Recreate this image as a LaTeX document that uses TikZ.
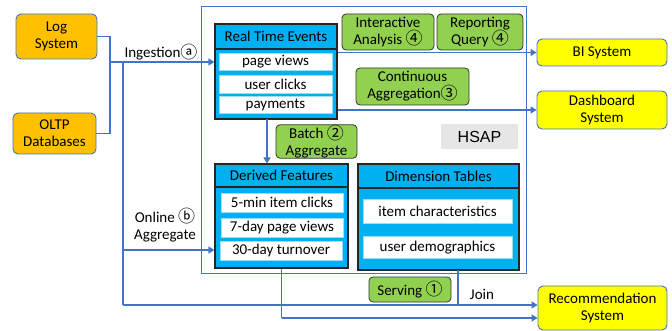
\documentclass[tikz,border=0pt]{standalone}
\usepackage{fontspec}
\setmainfont{Carlito}
\newfontfamily\circfont{Noto Sans CJK SC}
\newfontfamily\hsapfont{Liberation Sans}
\usetikzlibrary{arrows.meta}
\definecolor{cOrange}{HTML}{FFC000}
\definecolor{cGreen}{HTML}{92D050}
\definecolor{cYellow}{HTML}{FFFF00}
\definecolor{cCyan}{HTML}{00B0F0}
\definecolor{cLine}{HTML}{4472C4}
\definecolor{cGray}{HTML}{E7E6E6}
\newcommand{\circled}[1]{{\circfont\fontsize{17}{17}\selectfont\raisebox{-0.5pt}{#1}}}
\begin{document}
\begin{tikzpicture}[x=1pt,y=-1pt,
  every node/.style={font=\fontsize{15}{17}\selectfont, inner sep=0pt, align=center},
  srcbox/.style={draw=cLine, fill=cOrange, rounded corners=5pt, line width=0.9pt},
  dstbox/.style={draw=cLine, fill=cYellow, rounded corners=5pt, line width=0.9pt},
  opbox/.style={draw=black!80, fill=cGreen, rounded corners=4pt, line width=0.8pt},
  tblbox/.style={draw=black!85, fill=cCyan, line width=1.1pt},
  itembox/.style={draw=cCyan!40, fill=white, line width=0.8pt},
  conn/.style={draw=cLine, line width=1.1pt},
  arr/.style={conn, -{Triangle[length=6pt,width=7pt]}}
]
\useasboundingbox (0,0) rectangle (672,331);

% sources
\node[srcbox, minimum width=81pt, minimum height=45pt] (log) at (56.5,36.5) {Log\\System};
\node[srcbox, minimum width=83pt, minimum height=41pt] (oltp) at (54.5,133.5) {OLTP\\Databases};

% HSAP container
\node[draw=cLine, line width=0.9pt, minimum width=325pt, minimum height=267pt] (hsap) at (363.5,139.5) {};
\node[fill=cGray, minimum width=77pt, minimum height=25pt, font=\hsapfont\fontsize{16}{18}\selectfont] (hsaplbl) at (479.5,136.5) {HSAP};

% Real Time Events
\node[tblbox, minimum width=122pt, minimum height=95pt] (rte) at (276,71.5) {};
\node[tblbox, minimum width=122pt, minimum height=25pt] (rteh) at (276,36.5) {Real Time Events};
\node[itembox, minimum width=113pt, minimum height=17.5pt] (pv) at (275.5,62) {page views};
\node[itembox, minimum width=113pt, minimum height=17.5pt] (uc) at (275.5,84.5) {user clicks};
\node[itembox, minimum width=113pt, minimum height=17.5pt] (pay) at (275.5,105) {payments};

% operations
\node[opbox, minimum width=92pt, minimum height=36pt] (ia) at (388,32) {Interactive\\Analysis \circled{④}};
\node[opbox, minimum width=86pt, minimum height=36pt] (rq) at (480,32) {Reporting\\Query \circled{④}};
\node[opbox, minimum width=113pt, minimum height=37pt] (ca) at (412.5,86.5) {Continuous\\Aggregation\circled{③}};
\node[opbox, minimum width=81pt, minimum height=33pt] (ba) at (316.5,141.5) {Batch \circled{②}\\Aggregate};
\node[opbox, minimum width=82pt, minimum height=25pt] (sv) at (410,289.5) {Serving \circled{①}};

% destinations
\node[dstbox, minimum width=130pt, minimum height=27pt] (bi) at (602,52.5) {BI System};
\node[dstbox, minimum width=130pt, minimum height=38pt] (dash) at (602,110) {Dashboard\\System};
\node[dstbox, minimum width=129pt, minimum height=44pt] (rec) at (602.5,308) {Recommendation\\System};

% Derived Features
\node[tblbox, minimum width=133pt, minimum height=104pt] (der) at (281.5,216) {};
\node[tblbox, minimum width=133pt, minimum height=23pt] (derh) at (281.5,175.5) {Derived Features};
\node[itembox, minimum width=122pt, minimum height=19pt] (f1) at (282,202.5) {5-min item clicks};
\node[itembox, minimum width=122pt, minimum height=19pt] (f2) at (282,227.5) {7-day page views};
\node[itembox, minimum width=122pt, minimum height=19pt] (f3) at (281,251) {30-day turnover};

% Dimension Tables
\node[tblbox, minimum width=161pt, minimum height=106pt] (dim) at (438.5,217) {};
\node[tblbox, minimum width=161pt, minimum height=24pt] (dimh) at (438.5,176) {Dimension Tables};
\node[itembox, minimum width=149pt, minimum height=24pt] (d1) at (437.5,211.5) {item characteristics};
\node[itembox, minimum width=149pt, minimum height=22pt] (d2) at (437.5,247.5) {user demographics};

% labels
\node (ing) at (161,52) {Ingestion\circled{ⓐ}};
\node (onl) at (165,225) {Online \circled{ⓑ}\\Aggregate};
\node (join) at (482,294) {Join};

% connectors
\coordinate (j1) at (110,62);
\coordinate (j2) at (123,62);
\coordinate (j3) at (123,305);
\coordinate (j4) at (123,250);
\coordinate (bt) at (267,119);
\coordinate (dj) at (458,305);
\coordinate (dt) at (458,270);
\coordinate (fd) at (281.5,318);

\draw[conn] (log.east) -| (j1);
\draw[conn] (oltp.east) -| (j1);
\draw[arr] (j1) -- (j1 -| rte.west);
\draw[conn] (j2) -- (j3);
\draw[arr] (j3) -- (j3 -| rec.west);
\draw[arr] (j4) -- (j4 -| der.west);
\draw[arr] (rte.east |- bi.west) -- (bi.west);
\draw[arr] (rte.east |- dash.west) -- (dash.west);
\draw[arr] (bt) -- (bt |- der.north);
\draw[conn] (dt) -- (dj);
\draw[conn] (der.south) -- (fd);
\draw[arr] (fd) -- (fd -| rec.west);
\end{tikzpicture}
\end{document}
